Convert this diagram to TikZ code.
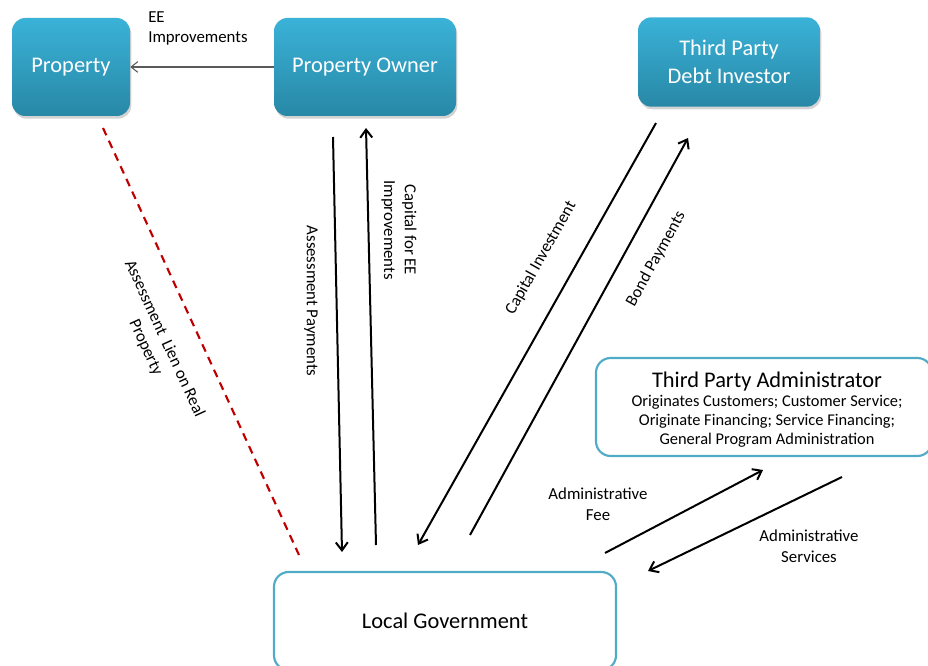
\documentclass[tikz,border=0pt]{standalone}
\usepackage{fontspec}
\setmainfont{Carlito}
\usetikzlibrary{arrows.meta,shadows,positioning}

\definecolor{boxtop}{RGB}{58,178,216}
\definecolor{boxbot}{RGB}{40,136,166}
\definecolor{boxline}{RGB}{80,172,198}
\definecolor{lienred}{RGB}{192,0,0}
\definecolor{thingray}{RGB}{90,90,90}

\tikzset{
  bluebox/.style={rounded corners=10pt, top color=boxtop, bottom color=boxbot, draw=none,
    text=white, font=\fontsize{16.8}{21}\selectfont, align=center, inner sep=0pt,
    drop shadow={shadow xshift=1pt, shadow yshift=-2pt, opacity=0.35}},
  whitebox/.style={rounded corners=11pt, draw=boxline, line width=1.6pt, fill=white,
    align=center, inner sep=0pt},
  flow/.style={line width=1.5pt, -{Straight Barb[length=6pt,width=9pt,line width=1.5pt]}},
  lbl/.style={font=\fontsize{12.6}{15.5}\selectfont, align=center, inner sep=0pt}
}

\begin{document}
\begin{tikzpicture}[x=0.75pt, y=-0.75pt]

  \useasboundingbox (0,0) rectangle (928,666);

  % boxes
  \node[bluebox, minimum width=88.5pt, minimum height=73.5pt] (property) at (71,67) {Property};
  \node[bluebox, minimum width=136.5pt, minimum height=73.5pt] (owner) at (365,67) {Property Owner};
  \node[bluebox, minimum width=136.5pt, minimum height=67pt] (investor) at (729,62) {Third Party\\Debt Investor};
  \node[whitebox, minimum width=252pt, minimum height=73.5pt] (admin) at (764,407) {};
  \node[font=\fontsize{16.8}{20}\selectfont, inner sep=0pt] (admintitle) at (767,382) {Third Party Administrator};
  \node[font=\fontsize{12.3}{14.4}\selectfont, align=center, inner sep=0pt, below=2pt of admintitle] (admintext)
    {Originates Customers; Customer Service;\\
     Originate Financing; Service Financing;\\
     General Program Administration};
  \node[whitebox, minimum width=256.5pt, minimum height=73.5pt, font=\fontsize{16.8}{20}\selectfont] (gov) at (445,621) {Local Government};

  % free ends of the connectors
  \coordinate (lienA) at (103,128);
  \coordinate (lienB) at (299,555);
  \coordinate (payA) at (333,137);
  \coordinate (payB) at (342,552);
  \coordinate (capA) at (376,545);
  \coordinate (capB) at (366,128);
  \coordinate (invA) at (656,123);
  \coordinate (invB) at (418,545);
  \coordinate (bondA) at (470,535);
  \coordinate (bondB) at (688,138);
  \coordinate (feeA) at (605,553);
  \coordinate (feeB) at (763,470);
  \coordinate (servA) at (842,477);
  \coordinate (servB) at (648,571);

  % connectors
  \draw[thingray, line width=0.8pt, -{Straight Barb[length=5pt,width=8pt]}] (owner.west) -- (property.east);
  \draw[lienred, line width=1.6pt, dash pattern=on 6pt off 4.5pt] (lienA) -- (lienB);
  \draw[flow] (payA) -- (payB);
  \draw[flow] (capA) -- (capB);
  \draw[flow] (invA) -- (invB);
  \draw[flow] (bondA) -- (bondB);
  \draw[flow] (feeA) -- (feeB);
  \draw[flow] (servA) -- (servB);

  % labels
  \node[lbl, align=left, anchor=north west] (eelbl) at (148,11) {EE\\Improvements};
  \node[lbl, rotate=-65.3] (lienlbl) at (155,343) {Assessment\ \ Lien on Real\\Property};
  \node[lbl, rotate=-90] (paylbl) at (311,301) {Assessment Payments};
  \node[lbl, rotate=-90] (caplbl) at (399,230) {Capital for EE\\Improvements};
  \node[lbl, rotate=60.6] (invlbl) at (541,258) {Capital Investment};
  \node[lbl, rotate=61.2] (bondlbl) at (656,259) {Bond Payments};
  \node[lbl] (feelbl) at (598,504) {Administrative\\Fee};
  \node[lbl] (servlbl) at (809,546) {Administrative\\Services};

\end{tikzpicture}
\end{document}
